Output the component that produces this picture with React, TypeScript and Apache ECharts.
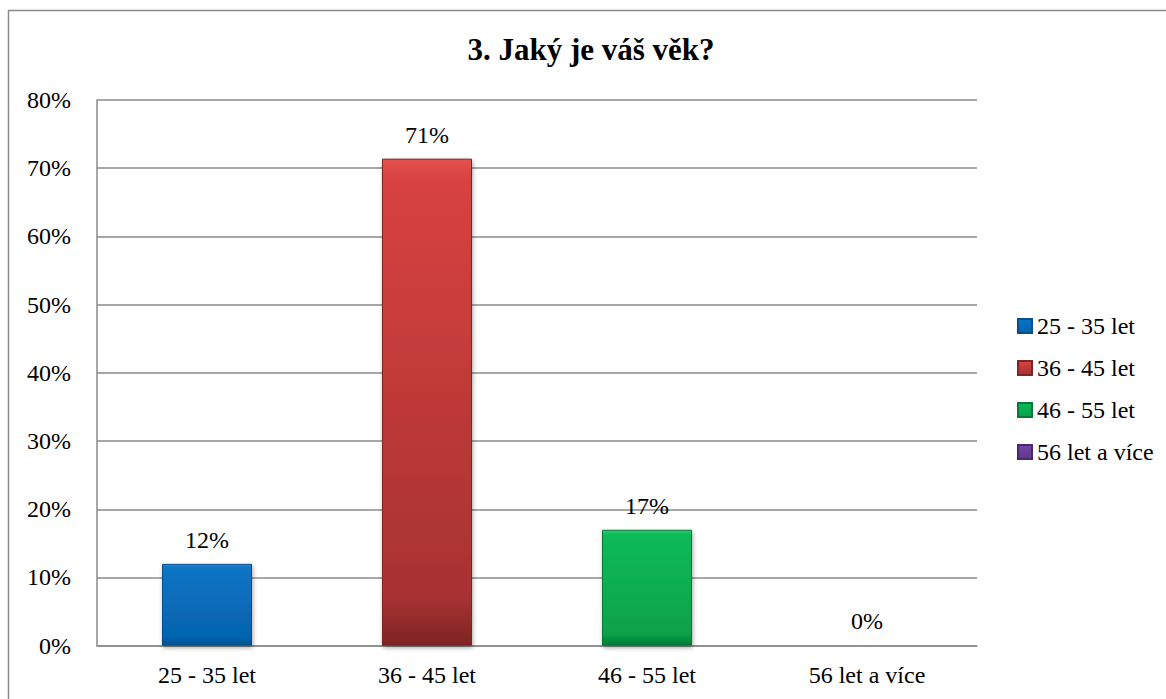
import React, { useEffect, useRef } from "react";
import * as echarts from "echarts";

const categories = ["25 - 35 let", "36 - 45 let", "46 - 55 let", "56 let a více"];
const values = [12, 71.4, 17, 0];
const yTicks = { min: 0, max: 80, interval: 10 };
const titleText = "3. Jaký je váš věk?";

const palettes = [
  { top: "#2c8cd8", mid: "#0874c6", bottom: "#0664ae", border: "#05508c" },
  { top: "#e45250", mid: "#d84240", bottom: "#a83232", border: "#7e2424" },
  { top: "#2ccc74", mid: "#08ba58", bottom: "#07a24a", border: "#057a36" },
  { top: "#9060c4", mid: "#7444a8", bottom: "#603890", border: "#48286e" },
];

const FONT = "Liberation Serif";

export default function App() {
  const ref = useRef<HTMLDivElement>(null);
  useEffect(() => {
    if (!ref.current) return;
    const chart = echarts.init(ref.current, null, { renderer: "svg" });
    const series = categories.map((name, i) => {
      const p = palettes[i];
      return {
        name,
        type: "bar",
        stack: "all",
        barWidth: 90,
        data: categories.map((_, j) => (j === i ? values[i] : null)),
        itemStyle: {
          color: new echarts.graphic.LinearGradient(0, 0, 0, 1, [
            { offset: 0, color: p.top },
            { offset: 0.04, color: p.mid },
            { offset: 0.9, color: p.bottom },
            { offset: 1, color: p.border },
          ]),
          borderColor: p.border,
          borderWidth: 1,
          shadowBlur: 4,
          shadowColor: "rgba(0,0,0,0.35)",
          shadowOffsetY: 2,
          shadowOffsetX: 1,
        },
        label: {
          show: true,
          position: "top",
          distance: 12,
          formatter: (d: any) => Math.round(d.value) + "%",
          color: "#000",
          fontSize: 24,
          fontFamily: FONT,
        },
      };
    });
    chart.setOption({
      animation: false,
      backgroundColor: "#fff",
      graphic: [
        {
          type: "rect",
          shape: { x: 8.5, y: 10.5, width: 1170, height: 700 },
          style: { fill: "none", stroke: "#8a8a8a", lineWidth: 1.5 },
          silent: true,
        },
        {
          type: "text",
          x: 591,
          y: 49.5,
          style: {
            text: titleText,
            fontSize: 31,
            fontWeight: "bold",
            fontFamily: FONT,
            fill: "#000",
            align: "center",
            verticalAlign: "middle",
          },
        },
      ],
      legend: {
        orient: "vertical",
        left: 1017,
        top: 314,
        icon: "rect",
        itemWidth: 14,
        itemHeight: 14,
        itemGap: 18,
        padding: 0,
        data: categories,
        textStyle: { fontSize: 24, fontFamily: FONT, color: "#000" },
      },
      grid: { left: 97, top: 100, right: 189, bottom: 53.3, containLabel: false },
      xAxis: {
        type: "category",
        data: categories,
        axisTick: { show: false },
        axisLine: { lineStyle: { color: "#8a8a8a", width: 1.5 } },
        axisLabel: { color: "#000", fontSize: 24, fontFamily: FONT, margin: 17 },
      },
      yAxis: {
        type: "value",
        min: yTicks.min,
        max: yTicks.max,
        interval: yTicks.interval,
        axisLine: { show: true, lineStyle: { color: "#8a8a8a", width: 1.5 } },
        axisTick: { show: false },
        splitLine: { lineStyle: { color: "#8a8a8a", width: 1.5 } },
        axisLabel: {
          formatter: "{value}%",
          color: "#000",
          fontSize: 24,
          fontFamily: FONT,
          margin: 26,
        },
      },
      series,
    });
    return () => chart.dispose();
  }, []);
  return (
    <div
      ref={ref}
      style={{ position: "absolute", left: 0, top: 0, width: 1166, height: 699 }}
    />
  );
}
